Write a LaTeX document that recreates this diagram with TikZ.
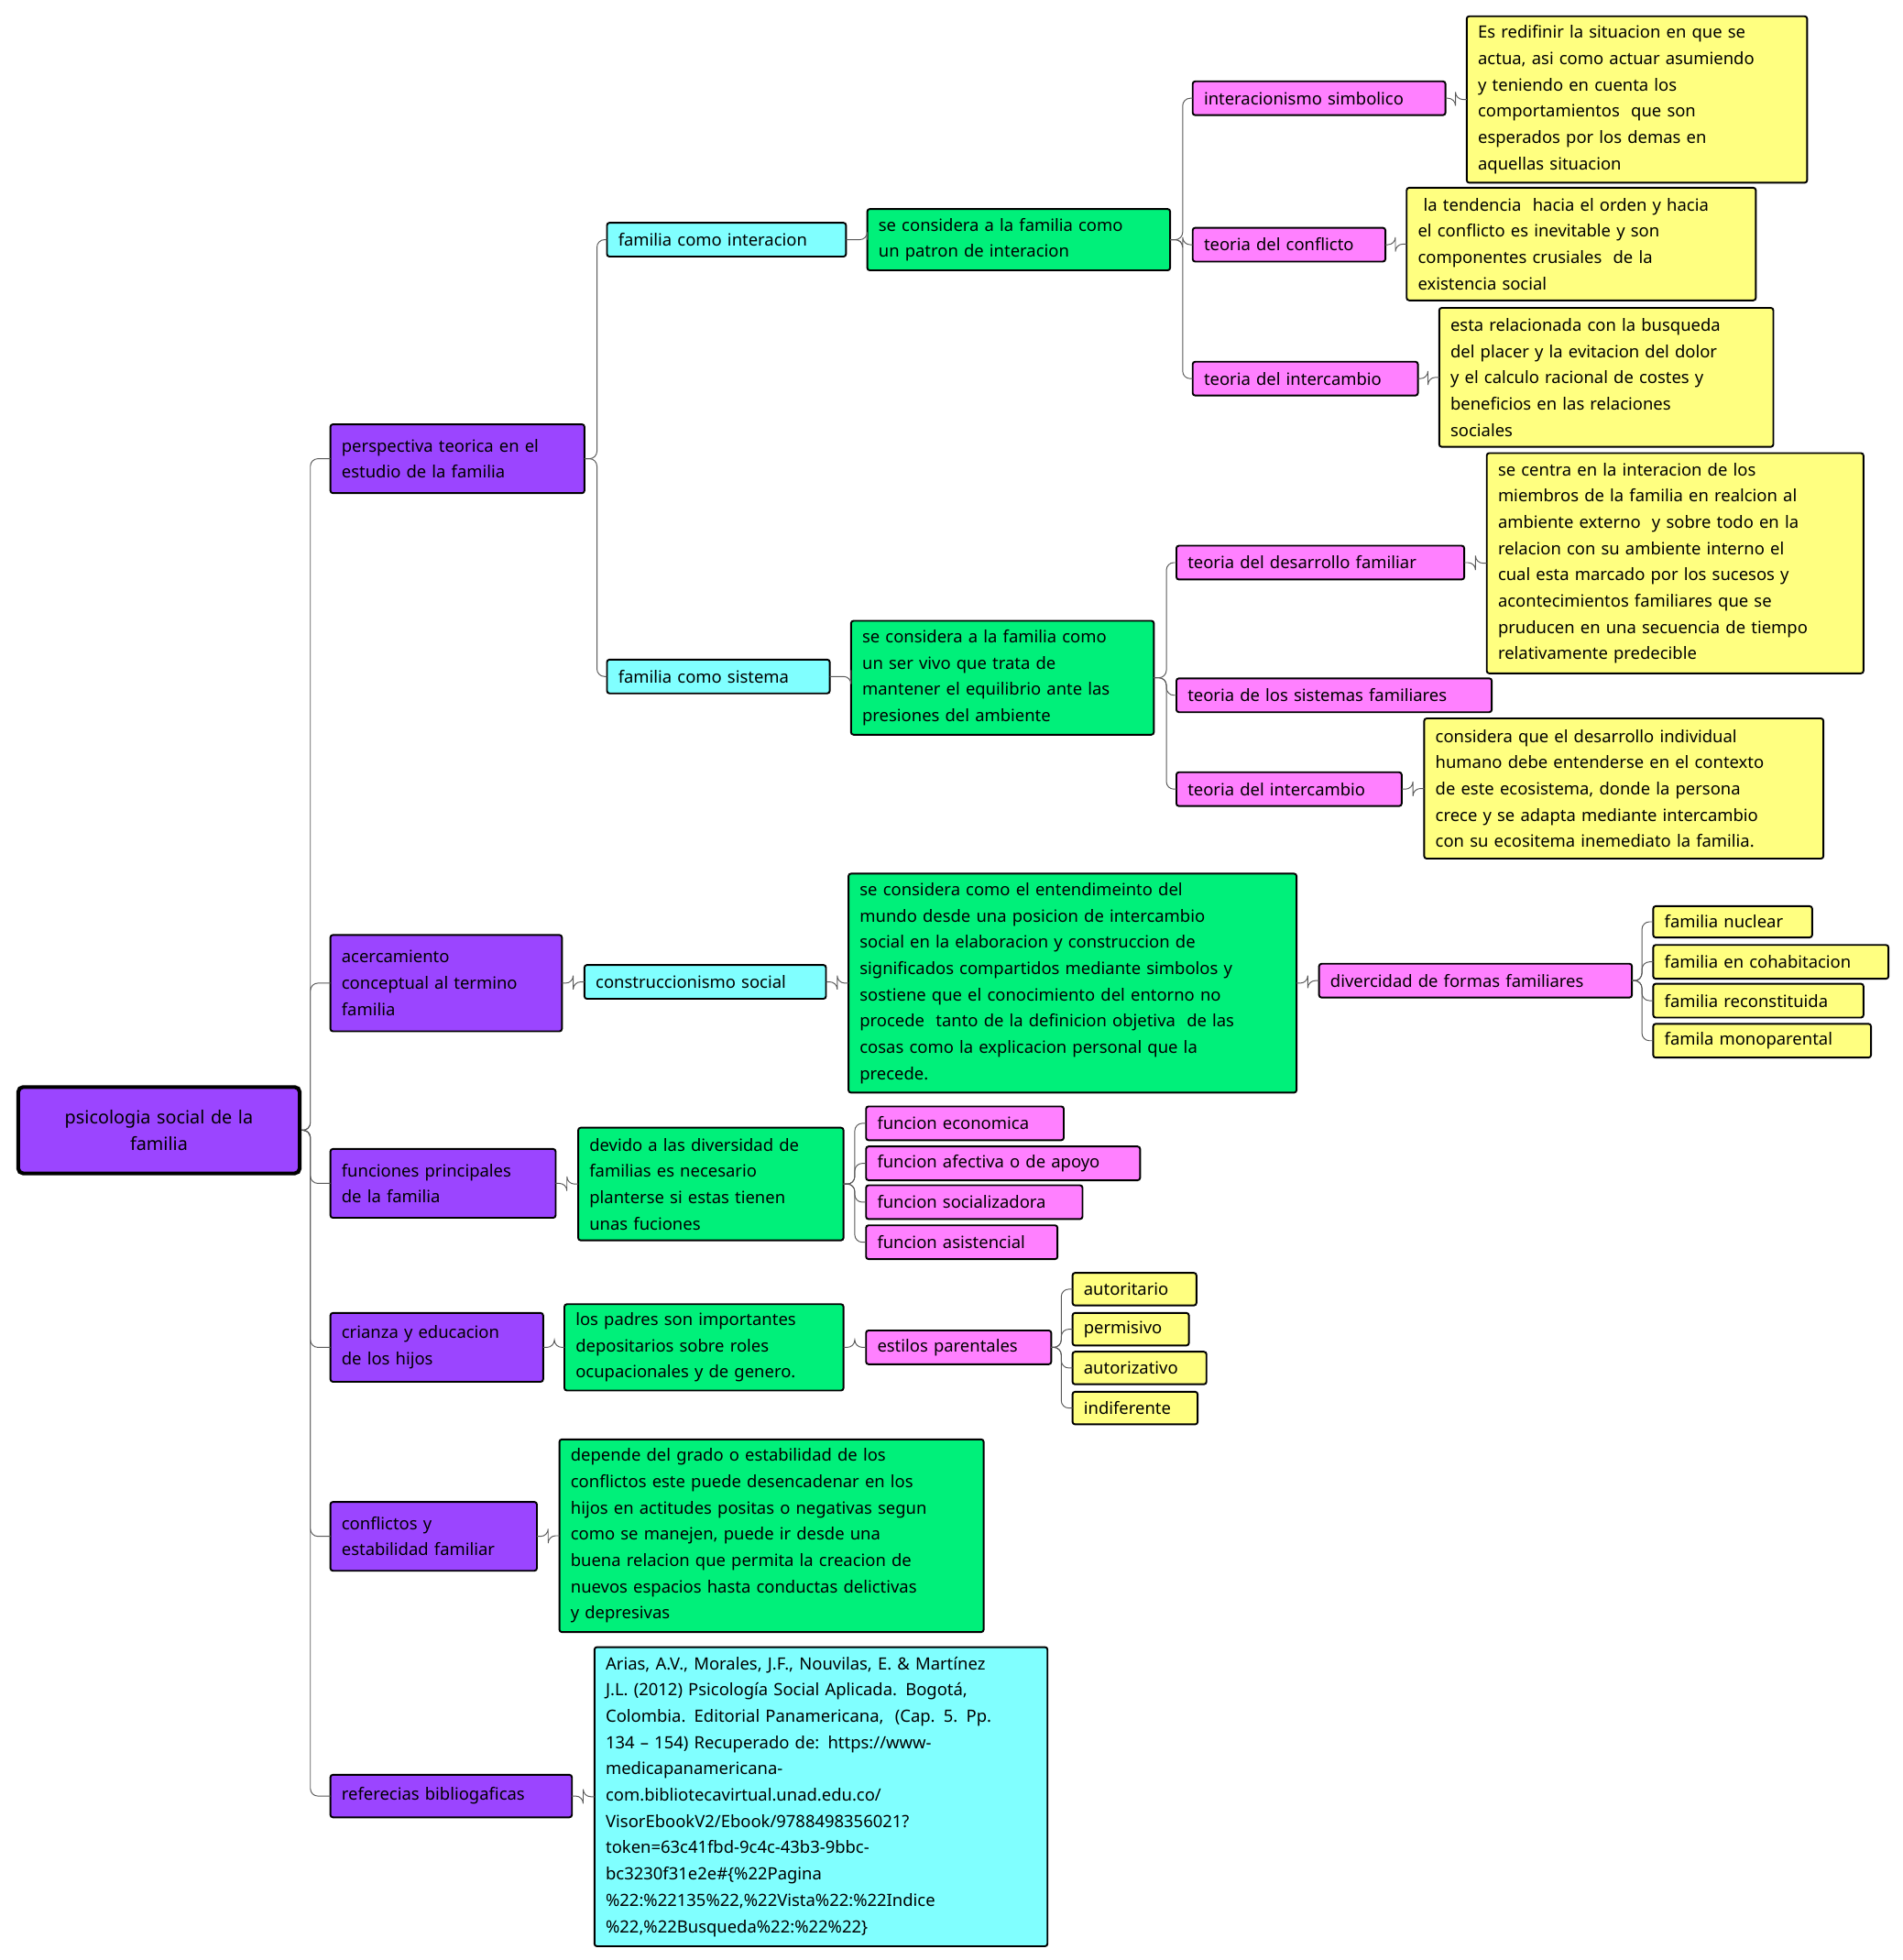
\documentclass[tikz,border=0pt]{standalone}
\usepackage{fontspec}
\setmainfont{Noto Sans}
\begin{document}
\begin{tikzpicture}[x=1pt,y=-1pt,
 base/.style={draw=black,line width=1.4pt,rounded corners=2pt,inner xsep=9pt,inner ysep=0pt,outer sep=0pt,align=left,font=\fontsize{13.5}{21}\selectfont},
 pur/.style={base,fill=pviolet},
 cya/.style={base,fill=pcyan},
 gre/.style={base,fill=pgreen},
 pin/.style={base,fill=ppink},
 yel/.style={base,fill=pyellow},
 conn/.style={draw=black!65,line width=0.7pt,rounded corners=6pt}]
\definecolor{pviolet}{HTML}{9B45FF}
\definecolor{pcyan}{HTML}{80FFFF}
\definecolor{pgreen}{HTML}{00F07A}
\definecolor{ppink}{HTML}{FF80FF}
\definecolor{pyellow}{HTML}{FFFF80}
\newcommand\bx[7]{\pgfmathsetmacro\bw{#5-#3}\pgfmathsetmacro\bh{#6-#4}\pgfmathsetmacro\tw{\bw-18}%
\node[#2,anchor=north west,minimum width=\bw pt,minimum height=\bh pt,text width=\tw pt] (#1) at (#3,#4) {#7};}
\useasboundingbox (0,0) rectangle (1520,1566);
\node[draw=black,line width=3pt,rounded corners=4pt,fill=pviolet,anchor=north west,minimum width=225pt,minimum height=69pt,text width=200pt,align=center,font=\fontsize{14.5}{21}\selectfont\bfseries] (root) at (13,867) {psicologia social de la\\familia};
\bx{A}{pur}{264}{339}{467}{394}{perspectiva teorica en el\\estudio de la familia}
\bx{B}{pur}{264}{747}{449}{824}{acercamiento\\conceptual al termino\\familia}
\bx{C}{pur}{264}{918}{444}{973}{funciones principales\\de la familia}
\bx{D}{pur}{264}{1049}{434}{1104}{crianza y educacion\\de los hijos}
\bx{E}{pur}{264}{1200}{429}{1255}{conflictos y\\estabilidad familiar}
\bx{F}{pur}{264}{1418}{457}{1452}{referecias bibliogaficas}
\bx{A1}{cya}{485}{178}{676}{205}{familia como interacion}
\bx{A2}{cya}{485}{527}{663}{554}{familia como sistema}
\bx{B1}{cya}{467}{771}{660}{798}{construccionismo social}
\bx{F1}{cya}{475}{1316}{837}{1555}{Arias, A.V., Morales, J.F., Nouvilas, E. \& Martínez\\J.L. (2012) Psicología Social Aplicada. Bogotá,\\Colombia. Editorial Panamericana,\ \ (Cap. 5. Pp.\\134 – 154) Recuperado de: https://www-\\medicapanamericana-\\com.bibliotecavirtual.unad.edu.co/\\VisorEbookV2/Ebook/9788498356021?\\token=63c41fbd-9c4c-43b3-9bbc-\\bc3230f31e2e\#\{\%22Pagina\\\%22:\%22135\%22,\%22Vista\%22:\%22Indice\\\%22,\%22Busqueda\%22:\%22\%22\}}
\bx{A1g}{gre}{693}{167}{935}{216}{se considera a la familia como\\un patron de interacion}
\bx{A2g}{gre}{680}{496}{922}{587}{se considera a la familia como\\un ser vivo que trata de\\mantener el equilibrio ante las\\presiones del ambiente}
\bx{B1g}{gre}{678}{698}{1036}{873}{se considera como el entendimeinto del\\mundo desde una posicion de intercambio\\social en la elaboracion y construccion de\\significados compartidos mediante simbolos y\\sostiene que el conocimiento del entorno no\\procede\ \ tanto de la definicion objetiva\ \ de las\\cosas como la explicacion personal que la\\precede.}
\bx{C1g}{gre}{462}{901}{674}{991}{devido a las diversidad de\\familias es necesario\\planterse si estas tienen\\unas fuciones}
\bx{D1g}{gre}{451}{1042}{674}{1111}{los padres son importantes\\depositarios sobre roles\\ocupacionales y de genero.}
\bx{E1g}{gre}{447}{1150}{786}{1304}{depende del grado o estabilidad de los\\conflictos este puede desencadenar en los\\hijos en actitudes positas o negativas segun\\como se manejen, puede ir desde una\\buena relacion que permita la creacion de\\nuevos espacios hasta conductas delictivas\\y depresivas}
\bx{p1}{pin}{953}{65}{1155}{92}{interacionismo simbolico}
\bx{p2}{pin}{953}{182}{1107}{209}{teoria del conflicto}
\bx{p3}{pin}{953}{289}{1133}{316}{teoria del intercambio}
\bx{p4}{pin}{940}{436}{1170}{463}{teoria del desarrollo familiar}
\bx{p5}{pin}{940}{542}{1192}{569}{teoria de los sistemas familiares}
\bx{p6}{pin}{940}{617}{1120}{644}{teoria del intercambio}
\bx{p7}{pin}{1054}{770}{1304}{797}{divercidad de formas familiares}
\bx{c1}{pin}{692}{884}{850}{911}{funcion economica}
\bx{c2}{pin}{692}{916}{911}{943}{funcion afectiva o de apoyo}
\bx{c3}{pin}{692}{947}{865}{974}{funcion socializadora}
\bx{c4}{pin}{692}{979}{845}{1006}{funcion asistencial}
\bx{d1}{pin}{692}{1063}{840}{1090}{estilos parentales}
\bx{y1}{yel}{1172}{13}{1444}{146}{Es redifinir la situacion en que se\\actua, asi como actuar asumiendo\\y teniendo en cuenta los\\comportamientos\ \ que son\\esperados por los demas en\\aquellas situacion}
\bx{y2}{yel}{1124}{150}{1403}{240}{\ la tendencia\ \ hacia el orden y hacia\\el conflicto es inevitable y son\\componentes crusiales\ \ de la\\existencia social}
\bx{y3}{yel}{1150}{246}{1417}{357}{esta relacionada con la busqueda\\del placer y la evitacion del dolor\\y el calculo racional de costes y\\beneficios en las relaciones\\sociales}
\bx{y4}{yel}{1188}{362}{1489}{538}{se centra en la interacion de los\\miembros de la familia en realcion al\\ambiente externo\ \ y sobre todo en la\\relacion con su ambiente interno el\\cual esta marcado por los sucesos y\\acontecimientos familiares que se\\pruducen en una secuencia de tiempo\\relativamente predecible}
\bx{y5}{yel}{1138}{574}{1457}{686}{considera que el desarrollo individual\\humano debe entenderse en el contexto\\de este ecosistema, donde la persona\\crece y se adapta mediante intercambio\\con su ecositema inemediato la familia.}
\bx{f1}{yel}{1321}{724}{1448}{749}{familia nuclear}
\bx{f2}{yel}{1321}{755}{1509}{782}{familia en cohabitacion}
\bx{f3}{yel}{1321}{786}{1489}{813}{familia reconstituida}
\bx{f4}{yel}{1321}{818}{1495}{845}{famila monoparental}
\bx{e1}{yel}{857}{1017}{956}{1043}{autoritario}
\bx{e2}{yel}{857}{1049}{950}{1075}{permisivo}
\bx{e3}{yel}{857}{1080}{964}{1106}{autorizativo}
\bx{e4}{yel}{857}{1112}{957}{1138}{indiferente}
\newcommand\tr[3]{\foreach \c in {#3} {\draw[conn] (#1.east) -- ++(#2,0) |- (\c.west);}}
\tr{root}{7}{A,B,C,D,E,F}
\tr{A}{10}{A1,A2}
\tr{A1}{17}{A1g}
\tr{A2}{17}{A2g}
\tr{A1g}{10}{p1,p2,p3}
\tr{A2g}{10}{p4,p5,p6}
\tr{p1}{8}{y1}
\tr{p2}{8}{y2}
\tr{p3}{8}{y3}
\tr{p4}{9}{y4}
\tr{p6}{9}{y5}
\tr{B}{9}{B1}
\tr{B1}{9}{B1g}
\tr{B1g}{9}{p7}
\tr{p7}{8}{f1,f2,f3,f4}
\tr{C}{9}{C1g}
\tr{C1g}{9}{c1,c2,c3,c4}
\tr{D}{9}{D1g}
\tr{D1g}{9}{d1}
\tr{d1}{8}{e1,e2,e3,e4}
\tr{E}{9}{E1g}
\tr{F}{9}{F1}
\end{tikzpicture}
\end{document}
